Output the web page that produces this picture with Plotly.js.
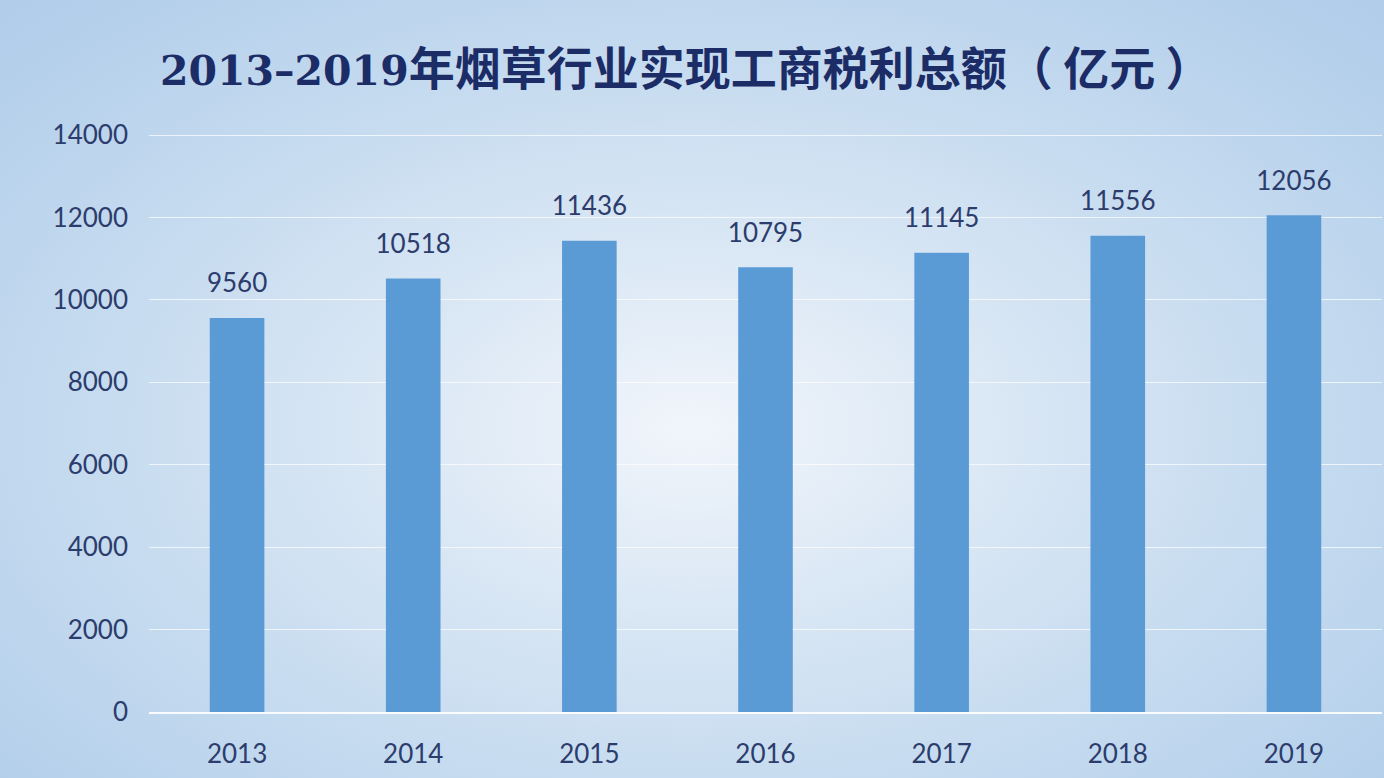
<!DOCTYPE html>
<html>
<head>
<meta charset="utf-8">
<script src="https://cdn.plot.ly/plotly-3.0.1.min.js"></script>
<style>
html,body{margin:0;padding:0;width:1384px;height:778px;overflow:hidden;
background:radial-gradient(ellipse 70% 75% at 50% 55%, #f1f5fb 0%, #dbe8f5 30%, #c4daef 65%, #b1cdea 100%);}
#chart{width:1384px;height:778px;}
</style>
</head>
<body>
<div id="chart"></div>
<script>
const years = ['2013','2014','2015','2016','2017','2018','2019'];
const values = [9560, 10518, 11436, 10795, 11145, 11556, 12056];
const yTicks = [0,2000,4000,6000,8000,10000,12000,14000];
const titleYears = '2013–2019';
const titleRest = '年烟草行业实现工商税利总额（ 亿元 ）';

function lf(){ return {family:'Lato, Liberation Sans, sans-serif', size:26, color:'#2c3c6c'}; }

const bars = {
  type:'bar', x:years, y:values, width:0.31,
  marker:{color:'#5b9bd5'}, hoverinfo:'x+y'
};

const labels = {
  type:'scatter', mode:'markers+text', x:years, y:values,
  text:values.map(String), textposition:'top center', textfont:lf(),
  marker:{size:29, color:'rgba(0,0,0,0)'}, hoverinfo:'skip', cliponaxis:false
};

const layout = {
  width:1384, height:778,
  paper_bgcolor:'rgba(0,0,0,0)', plot_bgcolor:'rgba(0,0,0,0)',
  margin:{l:149, r:2, t:133, b:66},
  title:{text:'<span style="font-family:DejaVu Serif;font-size:41px">'+titleYears+'</span>'+titleRest,
    x:0.4955, xanchor:'center', y:0.912, yanchor:'middle',
    font:{family:'Noto Sans CJK SC, sans-serif', size:46, color:'#1b2c66', weight:'bold'}},
  xaxis:{type:'category', range:[-0.5,6.5], showgrid:false, zeroline:false,
    showline:true, linecolor:'rgba(255,255,255,0.9)', linewidth:1.5,
    ticks:'', tickfont:lf(), ticklabelstandoff:18},
  yaxis:{range:[0,14050], tickvals:yTicks, ticktext:yTicks.map(String),
    showgrid:true, gridcolor:'rgba(255,255,255,0.7)', gridwidth:1.2,
    zeroline:false, showline:false, ticks:'', tickfont:lf(), ticklabelstandoff:20},
  showlegend:false
};

Plotly.newPlot('chart',[bars, labels],layout,{displayModeBar:false});
</script>
</body>
</html>
